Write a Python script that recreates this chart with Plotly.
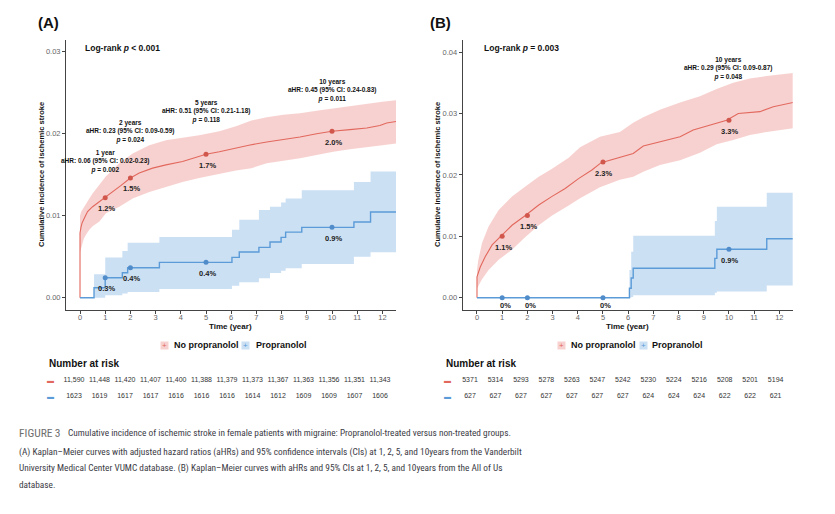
import plotly.graph_objects as go

# the page body adds an 8px margin, so the figure is drawn 8px in from the window corner
OFF = 8
W, H = 835 - 2 * OFF, 514 - 2 * OFF

RED = '#E2685E'
RED_DOT = '#D1574D'
RED_FILL = 'rgba(228,104,95,0.30)'
BLUE = '#5B9BD8'
BLUE_DOT = '#4F8CC9'
BLUE_FILL = 'rgba(100,160,222,0.33)'
FONT = 'Liberation Sans, Arial, sans-serif'

years = list(range(13))
mark_years = [1, 2, 5, 10]

# ---- (A) VUMC ----
a_no_t = [0, 0, 0.04, 0.08, 0.17, 0.30, 0.50, 0.77, 1.00, 1.30, 1.63, 2.00, 2.35, 2.88, 3.41, 4.07,
          4.60, 5.00, 5.53, 6.08, 6.70, 7.41, 8.10, 8.73, 9.39, 10.00, 10.71, 11.38, 11.90, 12.17, 12.56]
a_no_v = [0, 0.0079, 0.0086, 0.0091, 0.0097, 0.0105, 0.0111, 0.0117, 0.0122, 0.0129, 0.0137, 0.0146,
          0.0152, 0.0158, 0.0162, 0.0166, 0.0171, 0.0175, 0.0178, 0.0182, 0.0186, 0.0190, 0.0193, 0.0196,
          0.0200, 0.0203, 0.0205, 0.0207, 0.0210, 0.0213, 0.0215]
a_no_band_t = [0, 0.05, 0.15, 0.24, 0.37, 0.50, 0.77, 1.03, 1.30, 1.56, 2.09, 2.75, 3.41, 4.07, 4.73,
               5.53, 6.19, 6.80, 7.41, 8.07, 8.73, 9.39, 10.05, 10.71, 11.38, 12.00, 12.56]
a_no_hi = [0.0100, 0.0105, 0.0110, 0.0115, 0.0121, 0.0127, 0.0138, 0.0148, 0.0156, 0.0164, 0.0176,
           0.0186, 0.0192, 0.0195, 0.0198, 0.0203, 0.0209, 0.0216, 0.0220, 0.0223, 0.0225, 0.0228,
           0.0231, 0.0234, 0.0237, 0.0239, 0.0241]
a_no_lo = [0.0055, 0.0062, 0.0072, 0.0077, 0.0083, 0.0087, 0.0093, 0.0103, 0.0107, 0.0111, 0.0121,
           0.0129, 0.0135, 0.0141, 0.0146, 0.0151, 0.0155, 0.0158, 0.0164, 0.0167, 0.0170, 0.0174,
           0.0178, 0.0181, 0.0184, 0.0186, 0.0188]

a_pr_t = [0, 0.556, 1.00, 1.68, 1.89, 3.15, 6.03, 6.32, 7.10, 7.54, 7.98, 8.16, 8.80, 10.87, 11.53, 12.56]
a_pr_v = [0, 0.00122, 0.00244, 0.00305, 0.00366, 0.00431, 0.00492, 0.00557, 0.00614, 0.0068, 0.00736,
          0.0080, 0.00858, 0.00923, 0.01045, 0.01045]
a_pr_hi = [0, 0.00285, 0.0049, 0.0057, 0.0067, 0.0074, 0.0083, 0.0095, 0.0107, 0.0111, 0.0116, 0.0121,
           0.0131, 0.0141, 0.0154, 0.0154]
a_pr_lo = [0, 0.0, 0.0003, 0.0005, 0.0007, 0.00106, 0.00146, 0.00187, 0.00236, 0.0030, 0.0033, 0.00358,
           0.0041, 0.0050, 0.00554, 0.00554]

a_no_mark = [0.0122, 0.0146, 0.0175, 0.0203]
a_no_lab = ['1.2%', '1.5%', '1.7%', '2.0%']
a_pr_mark = [0.00244, 0.00366, 0.00431, 0.00858]
a_pr_lab = ['0.3%', '0.4%', '0.4%', '0.9%']

a_risk_no = ['11,590', '11,448', '11,420', '11,407', '11,400', '11,388', '11,379', '11,373', '11,367',
             '11,363', '11,356', '11,351', '11,343']
a_risk_pr = ['1623', '1619', '1617', '1617', '1616', '1616', '1616', '1614', '1612', '1609', '1609',
             '1607', '1606']

a_hr = [
    (1, 'year', '0.06 (95% CI: 0.02-0.23)', '0.002', 0.01667),
    (2, 'years', '0.23 (95% CI: 0.09-0.59)', '0.024', 0.02033),
    (5, 'years', '0.51 (95% CI: 0.21-1.18)', '0.118', 0.02265),
    (10, 'years', '0.45 (95% CI: 0.24-0.83)', '0.011', 0.0253),
]

# ---- (B) All of Us ----
b_no_t = [0, 0, 0.13, 0.33, 0.60, 0.95, 1.39, 1.92, 2.45, 2.98, 3.50, 4.03, 4.56, 4.93, 5.54, 6.20,
          6.60, 7.26, 8.06, 8.58, 9.25, 9.91, 10.37, 11.23, 11.76, 12.56]
b_no_v = [0, 0.0034, 0.0050, 0.0067, 0.0086, 0.0100, 0.0118, 0.0134, 0.0151, 0.0165, 0.0178, 0.0194,
          0.0208, 0.0220, 0.0227, 0.0235, 0.0247, 0.0254, 0.0262, 0.0273, 0.0281, 0.0289, 0.0300,
          0.0303, 0.0311, 0.0318]
b_no_band_t = [0, 0.05, 0.20, 0.46, 0.86, 1.39, 1.92, 2.45, 2.98, 3.64, 4.09, 4.88, 5.67, 6.20, 6.60,
               7.26, 8.06, 8.85, 9.51, 10.17, 10.83, 11.50, 12.56]
b_no_hi = [0.0045, 0.0061, 0.0089, 0.0116, 0.0143, 0.0165, 0.0181, 0.0197, 0.0210, 0.0228, 0.0245,
           0.0262, 0.0270, 0.0285, 0.0294, 0.0306, 0.0318, 0.0328, 0.0340, 0.0350, 0.0357, 0.0361,
           0.0366]
b_no_lo = [0.0015, 0.0019, 0.0030, 0.0045, 0.0062, 0.0078, 0.0099, 0.0118, 0.0134, 0.0150, 0.0162,
           0.0180, 0.0192, 0.0197, 0.0205, 0.0216, 0.0224, 0.0236, 0.0250, 0.0257, 0.0265, 0.0270,
           0.0276]

b_pr_t = [0, 6.05, 6.12, 6.20, 9.44, 9.52, 11.50, 12.56]
b_pr_v = [0, 0.00153, 0.0032, 0.0048, 0.0064, 0.0079, 0.0096, 0.0096]
b_pr_hi = [0, 0.0045, 0.0075, 0.0101, 0.0125, 0.0148, 0.0171, 0.0171]
b_pr_lo = [0, 0.0, 0.0001, 0.0004, 0.0008, 0.0010, 0.0020, 0.0020]

b_no_mark = [0.0100, 0.0134, 0.0221, 0.0289]
b_no_lab = ['1.1%', '1.5%', '2.3%', '3.3%']
b_pr_mark = [0, 0, 0, 0.0079]
b_pr_lab = ['0%', '0%', '0%', '0.9%']

b_risk_no = ['5371', '5314', '5293', '5278', '5263', '5247', '5242', '5230', '5224', '5216', '5208',
             '5201', '5194']
b_risk_pr = ['627', '627', '627', '627', '627', '627', '627', '624', '624', '624', '622', '622', '621']

b_hr = [(10, 'years', '0.29 (95% CI: 0.09-0.87)', '0.048', 0.03725)]

groups = ['No propranolol', 'Propranolol']


def px(x):
    return (x - OFF) / W


def py(y):
    return 1 - (y - OFF) / H


fig = go.Figure()
ann = []


def add_panel(ax, no_t, no_v, band_t, no_lo, no_hi, pr_t, pr_v, pr_lo, pr_hi,
              no_mark, no_lab, pr_mark, pr_lab):
    xa, ya = 'x' + ax, 'y' + ax
    # confidence bands
    fig.add_trace(go.Scatter(x=band_t, y=no_lo, mode='lines', line=dict(width=0),
                             xaxis=xa, yaxis=ya, showlegend=False, hoverinfo='skip'))
    fig.add_trace(go.Scatter(x=band_t, y=no_hi, mode='lines', line=dict(width=0),
                             fill='tonexty', fillcolor=RED_FILL, xaxis=xa, yaxis=ya,
                             showlegend=False, hoverinfo='skip'))
    fig.add_trace(go.Scatter(x=pr_t, y=pr_lo, mode='lines', line=dict(width=0, shape='hv'),
                             xaxis=xa, yaxis=ya, showlegend=False, hoverinfo='skip'))
    fig.add_trace(go.Scatter(x=pr_t, y=pr_hi, mode='lines', line=dict(width=0, shape='hv'),
                             fill='tonexty', fillcolor=BLUE_FILL, xaxis=xa, yaxis=ya,
                             showlegend=False, hoverinfo='skip'))
    # KM curves
    fig.add_trace(go.Scatter(x=no_t, y=no_v, mode='lines', line=dict(color=RED, width=1.1),
                             xaxis=xa, yaxis=ya, showlegend=False))
    fig.add_trace(go.Scatter(x=pr_t, y=pr_v, mode='lines', line=dict(color=BLUE, width=1.4, shape='hv'),
                             xaxis=xa, yaxis=ya, showlegend=False))
    # yearly points + labels
    for vals, labs, col in [(no_mark, no_lab, RED_DOT), (pr_mark, pr_lab, BLUE_DOT)]:
        fig.add_trace(go.Scatter(x=mark_years, y=vals, mode='markers', cliponaxis=False,
                                 marker=dict(color=col, size=5), xaxis=xa, yaxis=ya, showlegend=False))
        for yr, v, lab in zip(mark_years, vals, labs):
            ann.append(dict(x=yr, y=v, xref=xa, yref=ya, text='<b>%s</b>' % lab, showarrow=False,
                            yshift=-8 if v == 0 else -11, xshift=3 if v == 0 else 1,
                            font=dict(family=FONT, size=7.5, color='#222')))


add_panel('', a_no_t, a_no_v, a_no_band_t, a_no_lo, a_no_hi, a_pr_t, a_pr_v, a_pr_lo, a_pr_hi,
          a_no_mark, a_no_lab, a_pr_mark, a_pr_lab)
add_panel('2', b_no_t, b_no_v, b_no_band_t, b_no_lo, b_no_hi, b_pr_t, b_pr_v, b_pr_lo, b_pr_hi,
          b_no_mark, b_no_lab, b_pr_mark, b_pr_lab)

# number-at-risk tables
for ax, r_no, r_pr in [('3', a_risk_no, a_risk_pr), ('4', b_risk_no, b_risk_pr)]:
    for grp, vals in zip(groups, [r_no, r_pr]):
        fig.add_trace(go.Scatter(x=years, y=[grp] * len(years), mode='text', text=vals,
                                 textfont=dict(family=FONT, size=7, color='#333'), cliponaxis=False,
                                 xaxis='x' + ax, yaxis='y' + ax, showlegend=False))

dom_a = [px(66), px(396)]
dom_b = [px(462.7), px(792.7)]
dom_y = [py(310), py(40)]
dom_t = [py(404.7), py(372.7)]

axis_common = dict(showline=True, linecolor='#444', linewidth=1, ticks='outside', ticklen=3,
                   tickcolor='#444', tickfont=dict(family=FONT, size=7.5, color='#666'),
                   showgrid=False, zeroline=False)

fig.update_layout(
    width=W, height=H, margin=dict(l=0, r=0, t=0, b=0),
    paper_bgcolor='white', plot_bgcolor='white',
    font=dict(family=FONT, color='#111'),
    xaxis=dict(domain=dom_a, range=[-0.556, 12.54], dtick=1, anchor='y', ticklabelstandoff=-3,
               **axis_common),
    yaxis=dict(domain=dom_y, range=[-0.0015, 0.03143], dtick=0.01, tickformat='.2f', anchor='x',
               **axis_common),
    xaxis2=dict(domain=dom_b, range=[-0.567, 12.53], dtick=1, anchor='y2', ticklabelstandoff=-3,
                **axis_common),
    yaxis2=dict(domain=dom_y, range=[-0.002, 0.04197], dtick=0.01, tickformat='.2f', anchor='x2',
                **axis_common),
    xaxis3=dict(domain=dom_a, range=[-0.3137, 12.627], visible=False, anchor='y3'),
    yaxis3=dict(domain=dom_t, type='category', categoryarray=groups[::-1], range=[-0.5, 1.5],
                visible=False, anchor='x3'),
    xaxis4=dict(domain=dom_b, range=[-0.2866, 12.67], visible=False, anchor='y4'),
    yaxis4=dict(domain=dom_t, type='category', categoryarray=groups[::-1], range=[-0.5, 1.5],
                visible=False, anchor='x4'),
)


def txt(x, y, s, size, xanchor='center', color='#111', **kw):
    ann.append(dict(x=px(x), y=py(y), xref='paper', yref='paper', text=s, showarrow=False,
                    xanchor=xanchor, yanchor='middle', font=dict(family=FONT, size=size, color=color),
                    **kw))


# aHR blocks (positioned on the data axes)
for ax, blocks in [('', a_hr), ('2', b_hr)]:
    for yr, unit, hr, p, ypos in blocks:
        ann.append(dict(x=yr, y=ypos, xref='x' + ax, yref='y' + ax, showarrow=False,
                        text='<b>%d %s<br>aHR: %s<br><i>p</i> = %s</b>' % (yr, unit, hr, p),
                        font=dict(family=FONT, size=6.5, color='#111'), align='center'))

txt(48.5, 22, '<b>(A)</b>', 15)
txt(440, 22, '<b>(B)</b>', 15)
txt(83, 48, '<b>Log-rank <i>p</i> &lt; 0.001</b>', 8.5, 'left')
txt(482, 48, '<b>Log-rank <i>p</i> = 0.003</b>', 8.5, 'left')

for xc in [42, 438]:
    txt(xc, 175, '<b>Cumulative incidence of ischemic stroke</b>', 7.5, textangle=-90)
for xc in [231, 627.7]:
    txt(xc, 326.5, '<b>Time (year)</b>', 8)

# legends
for kx_r, tx_r, kx_b, tx_b in [(164.3, 172, 245.8, 254), (561, 569, 643.5, 650)]:
    txt(kx_r, 345, '+', 8, color=RED, bgcolor='rgba(228,104,95,0.30)', width=7, height=7, borderpad=0)
    txt(tx_r, 345, '<b>No propranolol</b>', 9, 'left')
    txt(kx_b, 345, '+', 8, color=BLUE, bgcolor='rgba(100,160,222,0.33)', width=7, height=7, borderpad=0)
    txt(tx_b, 345, '<b>Propranolol</b>', 9, 'left')

# risk table headings and row keys
for xl, xd in [(47, 50.5), (444, 447.5)]:
    txt(xl, 363, '<b>Number at risk</b>', 10, 'left')
    txt(xd, 380.7, '▬', 7, color=RED)
    txt(xd, 396.7, '▬', 7, color=BLUE)

# caption
CAP = 'Liberation Sans Narrow, Roboto Condensed, Liberation Sans, sans-serif'
CAP_COL = '#3b3b45'


def cap(x, y, s, size, color=CAP_COL):
    ann.append(dict(x=px(x), y=py(y), xref='paper', yref='paper', text=s, showarrow=False,
                    xanchor='left', yanchor='middle', font=dict(family=CAP, size=size, color=color)))


cap(17, 432.7, 'FIGURE\u20093', 11.5, '#6e6e6e')
cap(66, 432.7, 'Cumulative incidence of ischemic stroke in female patients with migraine: '
               'Propranolol-treated versus non-treated groups.', 9.3)
cap(17, 451.5, '(A) Kaplan\u2013Meier curves with adjusted hazard ratios (aHRs) and 95% confidence '
               'intervals (CIs) at 1, 2, 5, and 10years from the Vanderbilt', 9.3)
cap(17, 468, 'University Medical Center VUMC database. (B) Kaplan\u2013Meier curves with aHRs and 95% '
             'CIs at 1, 2, 5, and 10years from the All of Us', 9.3)
cap(17, 484.5, 'database.', 9.3)

fig.update_layout(annotations=ann)

fig.write_html('out.html')
